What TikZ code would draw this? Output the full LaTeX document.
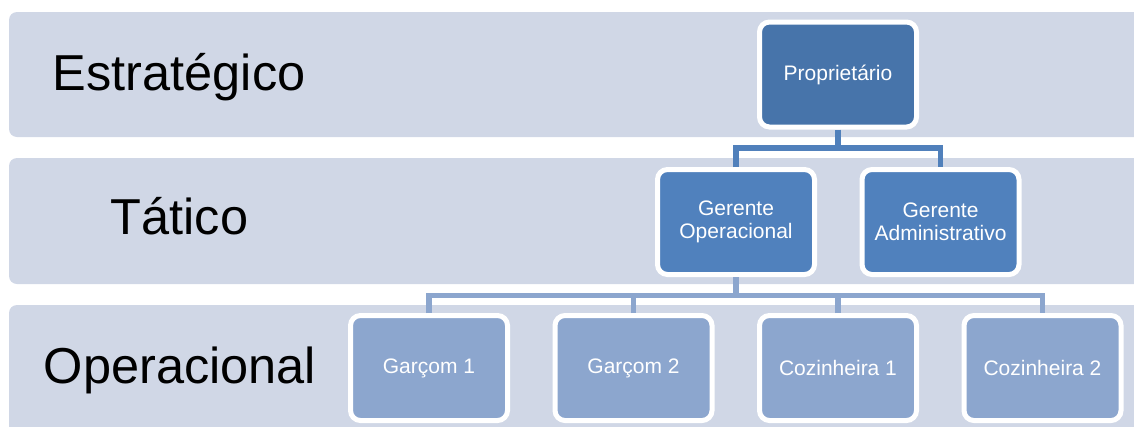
\documentclass[tikz,border=0pt]{standalone}
\usepackage{fontspec}
\setmainfont{Liberation Sans}
\definecolor{bandc}{HTML}{D0D7E6}
\definecolor{propc}{HTML}{4774AA}
\definecolor{gerc}{HTML}{5081BD}
\definecolor{opc}{HTML}{8CA6CE}
\definecolor{conna}{HTML}{5080BB}
\definecolor{connb}{HTML}{8CA6CE}
\begin{document}
\begin{tikzpicture}[x=1pt,y=-1pt,
  bandbox/.style={fill=bandc, rounded corners=8pt},
  orgbox/.style={draw=white, line width=5pt, rounded corners=10pt,
    minimum width=157pt, minimum height=105pt, inner sep=0pt,
    align=center, text=white, font=\fontsize{21}{22.5}\selectfont},
  levellabel/.style={anchor=base west, inner sep=0pt, text=black,
    font=\fontsize{50.5}{55}\selectfont},
  conn/.style={line width=5.5pt, line join=miter}]
\useasboundingbox (0,0) rectangle (1134,426);
% bands
\fill[bandbox] (9,12) rectangle (1160,137);
\fill[bandbox] (9,158) rectangle (1160,284);
\fill[bandbox] (9,305) rectangle (1160,450);
% level labels
\node[levellabel] (l1) at (52.7,90) {Estratégico};
\node[levellabel] (l2) at (110.5,234.8) {Tático};
\node[levellabel] (l3) at (43.6,383) {Operacional};
% boxes
\node[orgbox, fill=propc] (prop) at (838,74.5) {Proprietário};
\node[orgbox, fill=gerc] (gop) at (736,222) {Gerente\\Operacional};
\node[orgbox, fill=gerc] (gad) at (940.5,222) {Gerente\\Administrativo};
\node[orgbox, fill=opc] (o1) at (429,368) {Garçom 1};
\node[orgbox, fill=opc] (o2) at (633.5,368) {Garçom 2};
\node[orgbox, fill=opc] (o3) at (838,368) {Cozinheira 1};
\node[orgbox, fill=opc] (o4) at (1042.5,368) {Cozinheira 2};
% connectors
\coordinate (j1) at (838,148);
\coordinate (j2) at (736,295.5);
\draw[conn, draw=conna] (prop.south) -- (j1);
\draw[conn, draw=conna] (gop.north) -- (gop.north |- j1) -- (gad.north |- j1) -- (gad.north);
\draw[conn, draw=connb] (gop.south) -- (j2);
\draw[conn, draw=connb] (o1.north) -- (o1.north |- j2) -- (o4.north |- j2) -- (o4.north);
\draw[conn, draw=connb] (o2.north) -- (o2.north |- j2);
\draw[conn, draw=connb] (o3.north) -- (o3.north |- j2);
\end{tikzpicture}
\end{document}
